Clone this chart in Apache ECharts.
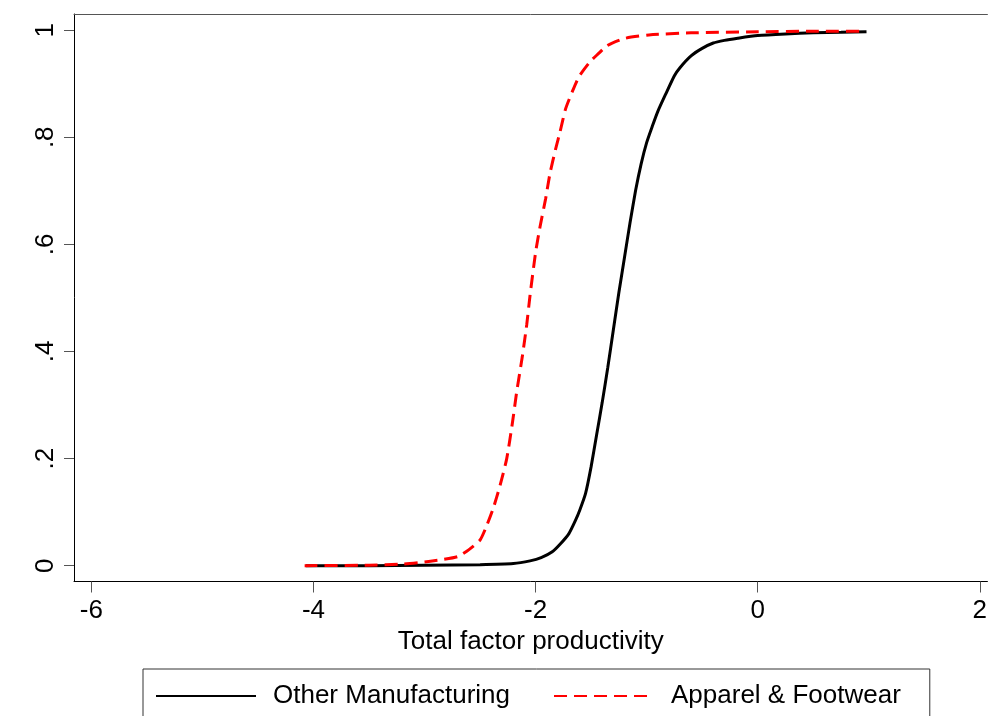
<!DOCTYPE html>
<html>
<head>
<meta charset="utf-8">
<script src="https://cdn.jsdelivr.net/npm/echarts@6/dist/echarts.min.js"></script>
<style>
  html, body { margin: 0; padding: 0; background: #fff; }
  #chart { width: 990px; height: 716px; }
</style>
</head>
<body>
<div id="chart"></div>
<script>
// cumulative distribution of TFP
const xTicks = [-6, -4, -2, 0, 2];
const yTicks = [0, 0.2, 0.4, 0.6, 0.8, 1];

const otherX = [-4.07, -3.5, -3.0, -2.5, -2.2, -2.05, -1.95, -1.85, -1.78, -1.70, -1.64, -1.60, -1.55, -1.50,
  -1.45, -1.40, -1.35, -1.30, -1.25, -1.20, -1.15, -1.10, -1.05, -1.00, -0.95, -0.90, -0.83, -0.75,
  -0.70, -0.60, -0.50, -0.40, -0.30, -0.18, 0.0, 0.25, 0.5, 0.75, 0.98];
const otherY = [0, 0.000, 0.001, 0.002, 0.004, 0.009, 0.015, 0.026, 0.040, 0.060, 0.085, 0.105, 0.135, 0.185,
  0.245, 0.305, 0.370, 0.440, 0.510, 0.575, 0.640, 0.700, 0.750, 0.790, 0.820, 0.848, 0.880, 0.915,
  0.930, 0.952, 0.966, 0.976, 0.981, 0.985, 0.990, 0.993, 0.995, 0.996, 0.997];

const apparelX = [-4.08, -3.5, -3.2, -3.0, -2.85, -2.70, -2.60, -2.50, -2.44, -2.38, -2.32, -2.26, -2.21, -2.17,
  -2.12, -2.08, -2.05, -2.00, -1.96, -1.91, -1.87, -1.82, -1.78, -1.73, -1.67, -1.61, -1.51, -1.43,
  -1.37, -1.31, -1.19, -0.98, -0.6, 0.0, 0.5, 0.96];
const apparelY = [0, 0.001, 0.003, 0.007, 0.011, 0.017, 0.030, 0.048, 0.075, 0.108, 0.150, 0.200, 0.265, 0.325,
  0.390, 0.450, 0.505, 0.585, 0.633, 0.685, 0.733, 0.778, 0.810, 0.853, 0.885, 0.913, 0.941, 0.957,
  0.969, 0.976, 0.985, 0.991, 0.995, 0.997, 0.998, 0.998];

const zip = (xs, ys) => xs.map((x, i) => [x, ys[i]]);

const FONT = 'Liberation Sans, Arial, sans-serif';
const X_MIN = -6.157;
const X_MAX = 2.069;

const chart = echarts.init(document.getElementById('chart'));

const option = {
  animation: false,
  backgroundColor: '#fff',
  grid: {
    left: 74,
    right: 0,
    top: 14,
    bottom: 134.5,
    show: false
  },
  legend: {
    left: 143,
    top: 669,
    orient: 'horizontal',
    padding: [14, 29, 30, 12],
    borderColor: '#333',
    borderWidth: 1,
    itemWidth: 100,
    itemHeight: 26,
    itemGap: 43,
    itemStyle: { opacity: 0 },
    lineStyle: { opacity: 1 },
    textStyle: {
      fontFamily: FONT,
      fontSize: 26,
      color: '#000',
      padding: [0, 0, 0, 12]
    },
    data: ['Other Manufacturing', 'Apparel & Footwear']
  },
  xAxis: [
    {
      type: 'value',
      min: X_MIN,
      max: X_MAX,
      name: 'Total factor productivity',
      nameLocation: 'middle',
      nameGap: 44,
      nameTextStyle: { fontFamily: FONT, fontSize: 26, color: '#000' },
      axisLine: { onZero: false, lineStyle: { color: '#000', width: 1 } },
      axisTick: { show: true, length: 11, customValues: xTicks, lineStyle: { color: '#555' } },
      axisLabel: {
        customValues: xTicks,
        margin: 16,
        fontFamily: FONT,
        fontSize: 26,
        color: '#000'
      },
      splitLine: { show: false }
    },
    {
      // top edge of the plot region
      type: 'value',
      position: 'top',
      min: X_MIN,
      max: X_MAX,
      axisLine: { show: true, onZero: false, lineStyle: { color: '#555', width: 1 } },
      axisTick: { show: false },
      axisLabel: { show: false },
      splitLine: { show: false }
    }
  ],
  yAxis: {
    type: 'value',
    min: -0.0295,
    max: 1.0302,
    axisLine: { show: true, onZero: false, lineStyle: { color: '#000', width: 1 } },
    axisTick: { show: true, length: 10, customValues: yTicks, lineStyle: { color: '#555' } },
    axisLabel: {
      customValues: yTicks,
      rotate: 90,
      margin: 15,
      fontFamily: FONT,
      fontSize: 26,
      color: '#000',
      formatter: v => {
        if (v === 0) return '0';
        if (v === 1) return '1';
        return String(+v.toFixed(1)).replace(/^0/, '');
      }
    },
    splitLine: { show: false }
  },
  series: [
    {
      name: 'Other Manufacturing',
      type: 'line',
      data: zip(otherX, otherY),
      symbol: 'none',
      smooth: 0.2,
      lineStyle: { color: '#000', width: 3 },
      itemStyle: { color: '#000' }
    },
    {
      name: 'Apparel & Footwear',
      type: 'line',
      data: zip(apparelX, apparelY),
      symbol: 'none',
      smooth: 0.2,
      lineStyle: { color: '#ff0000', width: 3, type: [13, 7] },
      itemStyle: { color: '#ff0000' }
    }
  ]
};

chart.setOption(option);
</script>
</body>
</html>
